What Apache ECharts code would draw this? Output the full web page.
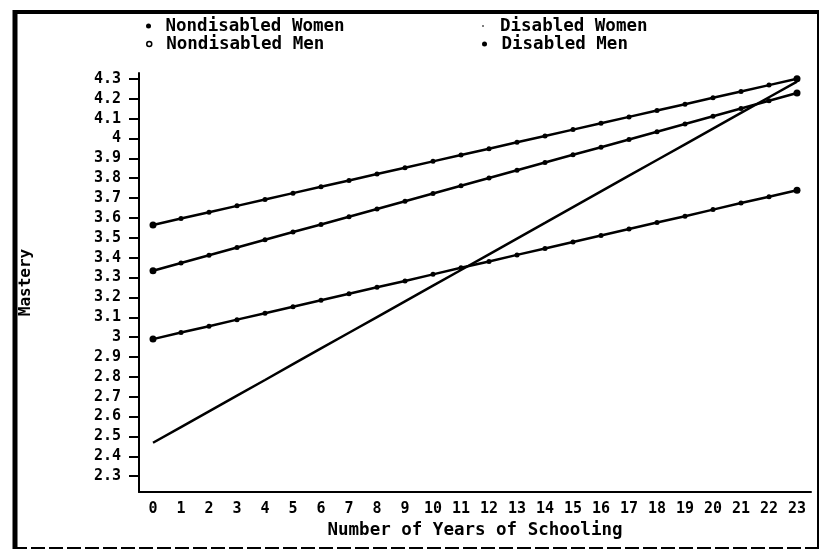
<!DOCTYPE html>
<html>
<head>
<meta charset="utf-8">
<script src="https://cdn.jsdelivr.net/npm/echarts@6/dist/echarts.min.js"></script>
<style>
  html, body { margin: 0; padding: 0; background: #fff; }
  #chart { width: 821px; height: 552px; }
</style>
</head>
<body>
<div id="chart"></div>
<script>
// Years of schooling on the x axis
const years = ['0','1','2','3','4','5','6','7','8','9','10','11','12','13','14','15','16','17','18','19','20','21','22','23'];

// Predicted mastery per group, one value per year of schooling
const nondisabledWomen = [3.565, 3.597, 3.629, 3.661, 3.693, 3.725, 3.757, 3.789, 3.821, 3.853, 3.885, 3.917,
                          3.949, 3.981, 4.013, 4.045, 4.077, 4.109, 4.141, 4.173, 4.205, 4.237, 4.269, 4.301];
const nondisabledMen   = [3.334, 3.373, 3.412, 3.451, 3.490, 3.529, 3.567, 3.606, 3.645, 3.684, 3.723, 3.762,
                          3.801, 3.840, 3.879, 3.918, 3.956, 3.995, 4.034, 4.073, 4.112, 4.151, 4.190, 4.229];
const disabledMen      = [2.990, 3.023, 3.055, 3.088, 3.120, 3.153, 3.186, 3.218, 3.251, 3.283, 3.316, 3.349,
                          3.381, 3.414, 3.446, 3.479, 3.512, 3.544, 3.577, 3.609, 3.642, 3.675, 3.707, 3.740];
const disabledWomen    = [2.468, 2.547, 2.626, 2.705, 2.784, 2.864, 2.943, 3.022, 3.101, 3.180, 3.259, 3.338,
                          3.417, 3.496, 3.575, 3.655, 3.734, 3.813, 3.892, 3.971, 4.050, 4.129, 4.208, 4.287];

// Mastery tick labels
const masteryTicks = [2.3, 2.4, 2.5, 2.6, 2.7, 2.8, 2.9, 3, 3.1, 3.2, 3.3, 3.4, 3.5, 3.6, 3.7, 3.8, 3.9, 4, 4.1, 4.2, 4.3];

const FONT = 'DejaVu Sans Mono';
const INK = '#000';

const dotSize = (v, p) => (p.dataIndex === 0 || p.dataIndex === years.length - 1) ? 7 : 5;

function lineSeries(name, data, withDots) {
  return {
    name: name,
    type: 'line',
    data: data,
    symbol: withDots ? 'circle' : 'none',
    symbolSize: dotSize,
    showSymbol: withDots,
    lineStyle: { color: INK, width: 2.5 },
    itemStyle: { color: INK },
    emphasis: { disabled: true },
    animation: false
  };
}

function legendEntry(name, left, top, size, itemStyle) {
  return {
    data: [{ name: name, icon: 'circle', itemStyle: itemStyle }],
    left: left,
    top: top,
    itemWidth: 24,
    itemHeight: size,
    padding: 0,
    selectedMode: false,
    textStyle: { fontFamily: FONT, fontWeight: 'bold', fontSize: 17.5, color: INK }
  };
}

const chart = echarts.init(document.getElementById('chart'), null, { renderer: 'canvas' });

chart.setOption({
  backgroundColor: '#fff',
  animation: false,
  legend: [
    legendEntry('Nondisabled Women', 146, 17, 5, { color: INK }),
    legendEntry('Nondisabled Men', 146, 35, 5, { color: '#fff', borderColor: INK, borderWidth: 1.5 }),
    legendEntry('Disabled Women', 482, 17, 2, { color: '#555' }),
    legendEntry('Disabled Men', 482, 35, 5, { color: INK })
  ],
  grid: { left: 139, right: 10, top: 73, bottom: 60, containLabel: false },
  xAxis: {
    type: 'category',
    data: years,
    boundaryGap: true,
    name: 'Number of Years of Schooling',
    nameLocation: 'middle',
    nameGap: 29,
    nameTextStyle: { fontFamily: FONT, fontWeight: 'bold', fontSize: 17.5, color: INK },
    axisLine: { lineStyle: { color: INK, width: 2 } },
    axisTick: { alignWithLabel: true, length: 5, lineStyle: { color: INK, width: 2 } },
    axisLabel: { fontFamily: FONT, fontWeight: 'bold', fontSize: 15, color: INK, margin: 10, interval: 0 },
    splitLine: { show: false }
  },
  yAxis: {
    type: 'value',
    min: 2.22,
    max: 4.33,
    name: 'Mastery',
    nameLocation: 'middle',
    nameGap: 105,
    nameTextStyle: { fontFamily: FONT, fontWeight: 'bold', fontSize: 16, color: INK },
    axisLine: { show: true, lineStyle: { color: INK, width: 2 } },
    axisTick: { show: true, length: 10, customValues: masteryTicks, lineStyle: { color: INK, width: 2 } },
    axisLabel: {
      fontFamily: FONT, fontWeight: 'bold', fontSize: 15, color: INK, margin: 18,
      customValues: masteryTicks,
      formatter: v => String(v)
    },
    splitLine: { show: false }
  },
  series: [
    lineSeries('Nondisabled Women', nondisabledWomen, true),
    lineSeries('Nondisabled Men', nondisabledMen, true),
    lineSeries('Disabled Women', disabledWomen, false),
    lineSeries('Disabled Men', disabledMen, true)
  ],
  graphic: [
    // outer frame
    { type: 'line', shape: { x1: 13, y1: 12, x2: 819, y2: 12 }, style: { stroke: INK, lineWidth: 4 }, silent: true },
    { type: 'line', shape: { x1: 15, y1: 10, x2: 15, y2: 549 }, style: { stroke: INK, lineWidth: 5 }, silent: true },
    { type: 'line', shape: { x1: 818, y1: 12, x2: 818, y2: 549 }, style: { stroke: INK, lineWidth: 2 }, silent: true },
    { type: 'line', shape: { x1: 13, y1: 548, x2: 819, y2: 548 }, style: { stroke: INK, lineWidth: 2, lineDash: [14, 4] }, silent: true }
  ]
});
</script>
</body>
</html>
